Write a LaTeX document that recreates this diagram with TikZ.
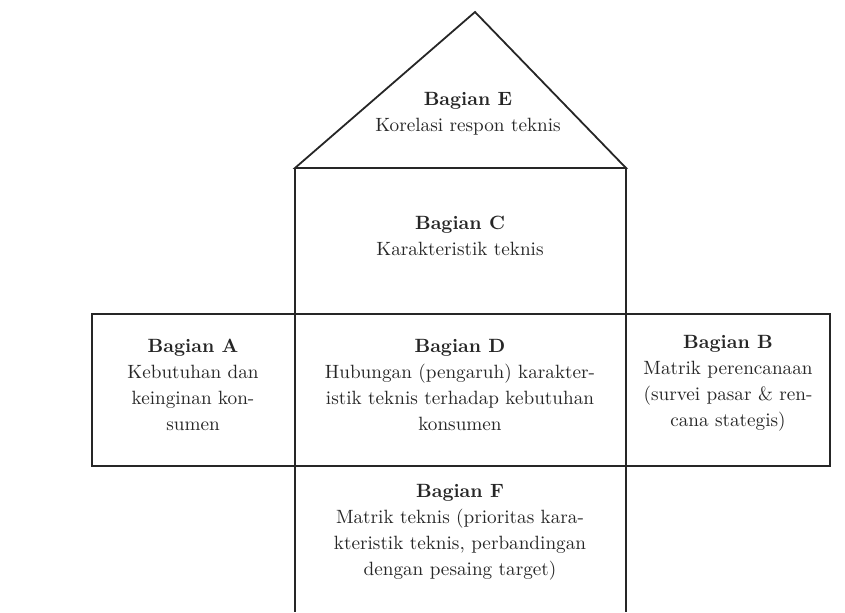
\documentclass[tikz,border=0pt]{standalone}
\usepackage{tikz}
\usetikzlibrary{positioning}

\begin{document}
\begin{tikzpicture}[x=0.5pt,y=-0.5pt,
    wall/.style={line width=0.9pt, black!85},
    sect/.style={align=center, inner sep=0pt, text=black!85,
      font=\fontsize{9.6}{13}\selectfont}]
    \useasboundingbox (0,0) rectangle (845,612);
    % corners of the house
    \coordinate (apex) at (475,12);
    \coordinate (eaveL) at (295,168);
    \coordinate (eaveR) at (626,168);
    \coordinate (rowTL) at (92,314);
    \coordinate (rowBR) at (830,466);
    \coordinate (footL) at (295,612);
    \coordinate (footR) at (626,612);
    % roof, columns and the middle row
    \draw[wall] (eaveL) -- (apex) -- (eaveR) -- cycle;
    \draw[wall] (eaveL) -- (footL);
    \draw[wall] (eaveR) -- (footR);
    \draw[wall] (rowTL) rectangle (rowBR);
    % sections
    \node[sect] (partE) at (468,114) {\textbf{Bagian E}\\Korelasi respon teknis};
    \node[sect] (partC) at (460,236) {\textbf{Bagian C}\\Karakteristik teknis};
    \node[sect] (partA) at (193,385) {\textbf{Bagian A}\\Kebutuhan dan\\keinginan kon-\\sumen};
    \node[sect] (partD) at (460,385) {\textbf{Bagian D}\\Hubungan (pengaruh) karakter-\\istik teknis terhadap kebutuhan\\konsumen};
    \node[sect] (partB) at (728,383) {\textbf{Bagian B}\\Matrik perencanaan\\(survei pasar \& ren-\\cana stategis)};
    \node[sect] (partF) at (460,532) {\textbf{Bagian F}\\Matrik teknis (prioritas kara-\\kteristik teknis, perbandingan\\dengan pesaing target)};
  \end{tikzpicture}
\end{document}
